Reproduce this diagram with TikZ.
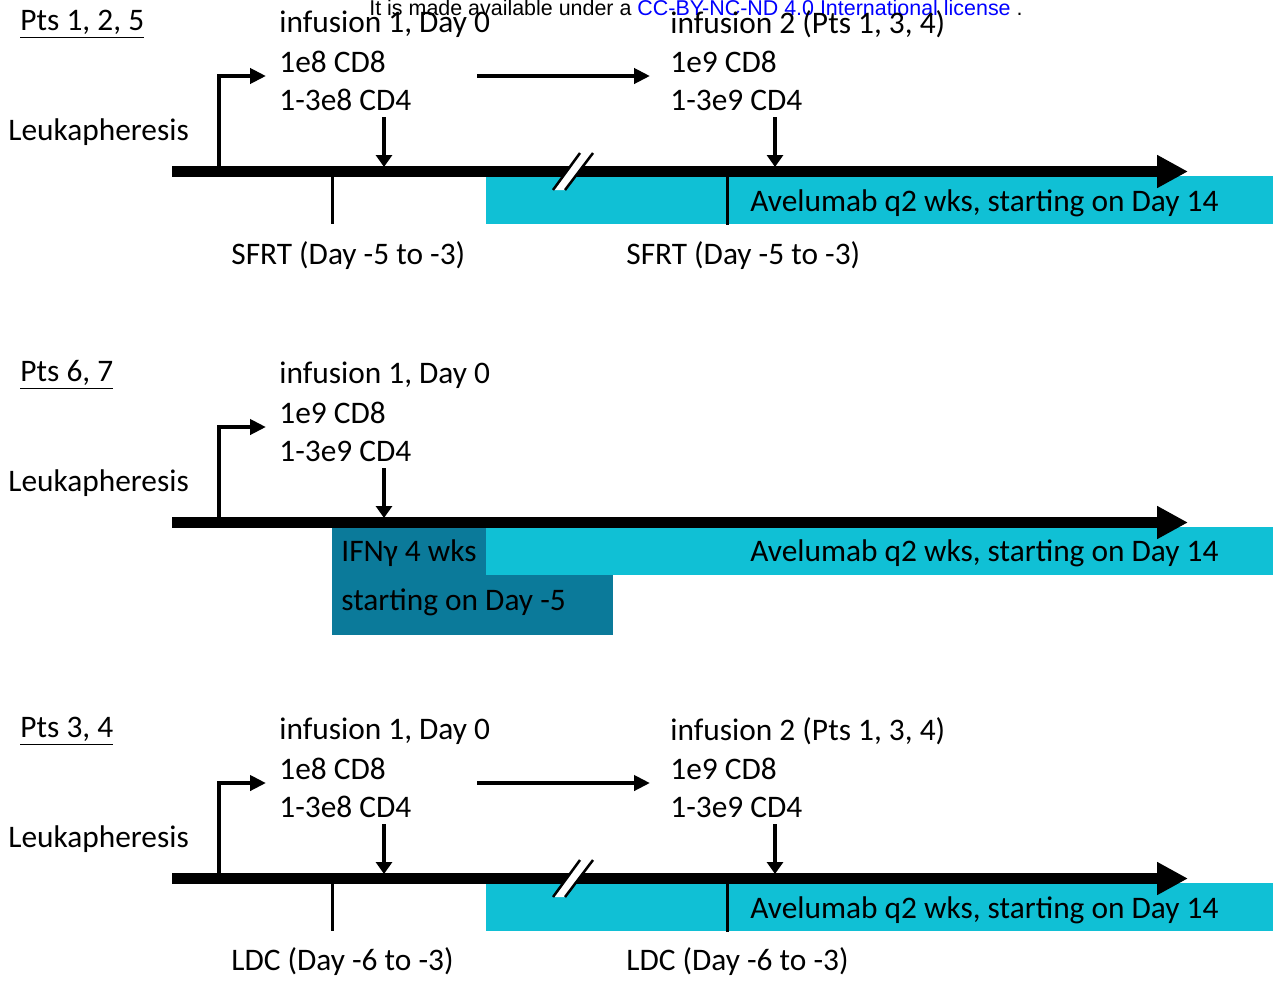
\documentclass[tikz,border=0pt]{standalone}
\usepackage{fontspec}
\setmainfont{Carlito}
\newfontfamily\arialfont{Liberation Sans}
\usepackage{tikz}
\usetikzlibrary{arrows.meta}
\definecolor{avecyan}{HTML}{10C0D5}
\definecolor{ifnteal}{HTML}{0B7A9A}

\begin{document}
\begin{tikzpicture}[x=0.02cm,y=-0.02cm]
\tikzstyle{lbl}=[anchor=west,inner sep=0pt,font=\fontsize{17.85}{21}\selectfont]
\tikzstyle{axis}=[line width=0.22cm,-{Triangle[length=0.62cm,width=0.62cm]}]
\tikzstyle{leuk}=[line width=0.09cm,-{Triangle[length=0.32cm,width=0.30cm]}]
\tikzstyle{dose}=[line width=0.09cm,-{Triangle[length=0.24cm,width=0.32cm]}]
\tikzstyle{tick}=[line width=0.06cm]
\tikzstyle{brk}=[line width=0.05cm]
\useasboundingbox (0,0) rectangle (1273,981);
\node[anchor=west,inner sep=0pt,font=\arialfont\fontsize{12.2}{14}\selectfont] (W) at (369,8) {It is made available under a \textcolor{blue}{CC-BY-NC-ND 4.0 International license} .};
% Pts 1, 2, 5
\fill[avecyan] (486,176) rectangle (1273,224);
\node[lbl] (P_1) at (20,24) {\underline{Pts 1, 2, 5}};
\node[lbl] (L_1) at (8,132) {Leukapheresis};
\node[lbl] (A_1) at (279,24) {infusion 1, Day 0};
\node[lbl] (B_1) at (279,62) {1e8 CD8};
\node[lbl] (C_1) at (279,100) {1-3e8 CD4};
\node[lbl] (D_1) at (670,24) {infusion 2 (Pts 1, 3, 4)};
\node[lbl] (E_1) at (670,62) {1e9 CD8};
\node[lbl] (F_1) at (670,100) {1-3e9 CD4};
\node[lbl] (V_1) at (750,203) {Avelumab q2 wks, starting on Day 14};
\node[lbl] (S_1) at (231,256) {SFRT (Day -5 to -3)};
\node[lbl] (T_1) at (626,256) {SFRT (Day -5 to -3)};
\coordinate (O_1) at (172,171.5);
\coordinate (X_1) at (1188,171.5);
\coordinate (K_1) at (266,76);
\coordinate (M_1) at (477,76);
\coordinate (N_1) at (650,76);
\draw[axis] (O_1) -- (X_1);
\draw[leuk] (219,171.5) |- (K_1);
\draw[leuk] (M_1) -- (N_1);
\draw[dose] (384,117) -- (384,167);
\draw[dose] (775,117) -- (775,167);
\draw[tick] (332,176) -- (332,224);
\draw[tick] (727,176) -- (727,225);
\fill[white] (580,153) -- (593,153) -- (565,190) -- (553,190) -- cycle;
\draw[brk] (580,153) -- (553,190);
\draw[brk] (593,153) -- (565,190);
% Pts 6, 7
\fill[ifnteal] (332,527) rectangle (613,635);
\fill[avecyan] (486,527) rectangle (1273,575);
\node[lbl] (P_2) at (20,375) {\underline{Pts 6, 7}};
\node[lbl] (L_2) at (8,483) {Leukapheresis};
\node[lbl] (A_2) at (279,375) {infusion 1, Day 0};
\node[lbl] (B_2) at (279,413) {1e9 CD8};
\node[lbl] (C_2) at (279,451) {1-3e9 CD4};
\node[lbl] (G_2) at (341,553) {IFNγ 4 wks};
\node[lbl] (H_2) at (341,602) {starting on Day -5};
\node[lbl] (V_2) at (750,553) {Avelumab q2 wks, starting on Day 14};
\coordinate (O_2) at (172,522.5);
\coordinate (X_2) at (1188,522.5);
\coordinate (K_2) at (266,427);
\draw[axis] (O_2) -- (X_2);
\draw[leuk] (219,522.5) |- (K_2);
\draw[dose] (384,468) -- (384,518);
% Pts 3, 4
\fill[avecyan] (486,883) rectangle (1273,931);
\node[lbl] (P_3) at (20,731) {\underline{Pts 3, 4}};
\node[lbl] (L_3) at (8,839) {Leukapheresis};
\node[lbl] (A_3) at (279,731) {infusion 1, Day 0};
\node[lbl] (B_3) at (279,769) {1e8 CD8};
\node[lbl] (C_3) at (279,807) {1-3e8 CD4};
\node[lbl] (D_3) at (670,731) {infusion 2 (Pts 1, 3, 4)};
\node[lbl] (E_3) at (670,769) {1e9 CD8};
\node[lbl] (F_3) at (670,807) {1-3e9 CD4};
\node[lbl] (V_3) at (750,910) {Avelumab q2 wks, starting on Day 14};
\node[lbl] (S_3) at (231,962) {LDC (Day -6 to -3)};
\node[lbl] (T_3) at (626,962) {LDC (Day -6 to -3)};
\coordinate (O_3) at (172,878.5);
\coordinate (X_3) at (1188,878.5);
\coordinate (K_3) at (266,783);
\coordinate (M_3) at (477,783);
\coordinate (N_3) at (650,783);
\draw[axis] (O_3) -- (X_3);
\draw[leuk] (219,878.5) |- (K_3);
\draw[leuk] (M_3) -- (N_3);
\draw[dose] (384,824) -- (384,874);
\draw[dose] (775,824) -- (775,874);
\draw[tick] (332,883) -- (332,931);
\draw[tick] (727,883) -- (727,932);
\fill[white] (580,860) -- (593,860) -- (565,897) -- (553,897) -- cycle;
\draw[brk] (580,860) -- (553,897);
\draw[brk] (593,860) -- (565,897);
\end{tikzpicture}
\end{document}
